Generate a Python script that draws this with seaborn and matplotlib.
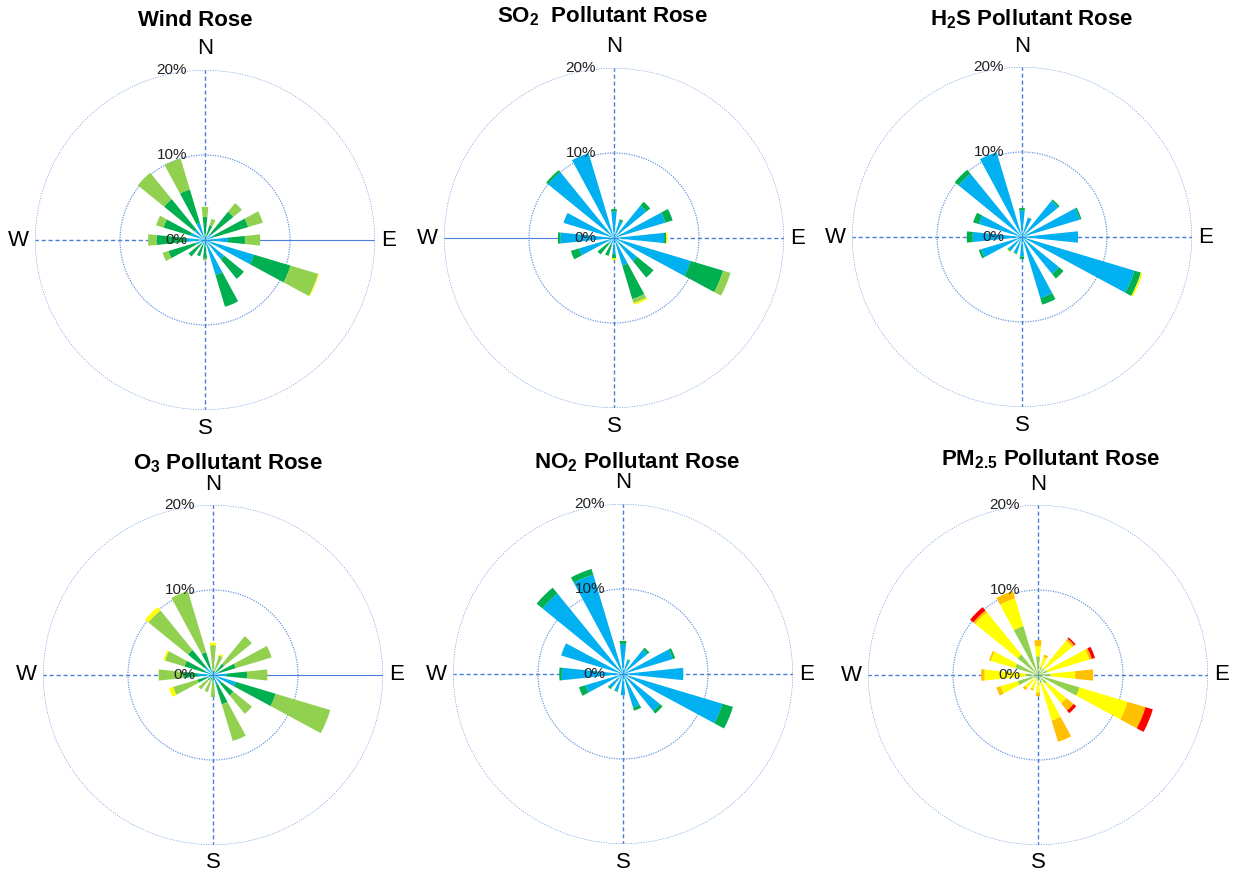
import numpy as np
import pandas as pd
import seaborn as sns
import matplotlib.pyplot as plt
from matplotlib.transforms import ScaledTranslation

# 16 compass directions, clockwise from N
directions = ['N', 'NNE', 'NE', 'ENE', 'E', 'ESE', 'SE', 'SSE',
              'S', 'SSW', 'SW', 'WSW', 'W', 'WNW', 'NW', 'NNW']

# --- Wind Rose (percent of time per class, stacked from the centre) ---
wind_c1 = [0.4, 0.5, 1.0, 1.2, 2.7, 6.0, 2.9, 4.3, 0.6, 0.5, 0.6, 1.2, 2.2, 1.8, 1.6, 2.1]
wind_c2 = [2.3, 1.3, 3.3, 4.1, 2.0, 4.5, 3.0, 3.9, 1.6, 1.5, 1.9, 3.3, 3.5, 3.3, 4.6, 4.1]
wind_c3 = [1.2, 0.8, 1.3, 1.8, 1.8, 3.4, 0.0, 0.0, 0.2, 0.0, 0.0, 0.7, 1.0, 0.9, 4.0, 3.8]
wind_c4 = [0.0, 0.0, 0.0, 0.0, 0.0, 0.1, 0.0, 0.0, 0.0, 0.0, 0.0, 0.0, 0.0, 0.0, 0.0, 0.0]

# --- SO2 ---
so2_c1 = [3.1, 2.1, 4.9, 6.3, 5.9, 9.4, 3.5, 3.4, 1.9, 0.8, 0.9, 4.3, 6.3, 6.2, 10.0, 10.4]
so2_c2 = [0.3, 0.2, 0.6, 0.9, 0.25, 4.0, 2.5, 4.1, 0.5, 1.4, 1.6, 1.0, 0.3, 0.0, 0.3, 0.0]
so2_c3 = [0.0, 0.0, 0.0, 0.0, 0.0, 0.9, 0.0, 0.5, 0.0, 0.0, 0.0, 0.0, 0.0, 0.0, 0.0, 0.0]
so2_c4 = [0.0, 0.0, 0.0, 0.0, 0.15, 0.0, 0.0, 0.2, 0.2, 0.0, 0.0, 0.0, 0.0, 0.0, 0.0, 0.0]

# --- H2S ---
h2s_c1 = [3.1, 2.3, 5.5, 7.1, 6.6, 13.8, 5.6, 7.5, 2.3, 2.0, 2.1, 5.0, 5.8, 5.3, 9.6, 10.4]
h2s_c2 = [0.3, 0.1, 0.2, 0.2, 0.0, 0.8, 0.7, 0.8, 0.3, 0.1, 0.1, 0.3, 0.7, 0.7, 0.6, 0.0]
h2s_c3 = [0.0] * 16
h2s_c4 = [0.0, 0.0, 0.0, 0.0, 0.0, 0.2, 0.0, 0.0, 0.0, 0.0, 0.1, 0.0, 0.0, 0.0, 0.0, 0.0]

# --- O3 ---
o3_c1 = [0.3, 0.2, 0.5, 0.8, 1.6, 2.8, 1.3, 1.2, 0.3, 0.3, 0.3, 0.8, 1.8, 1.0, 1.2, 0.8]
o3_c2 = [0.3, 0.3, 1.2, 2.0, 2.4, 4.9, 1.8, 2.4, 0.5, 0.4, 0.5, 1.1, 1.7, 2.5, 2.6, 2.0]
o3_c3 = [2.9, 1.9, 4.2, 4.4, 2.4, 6.7, 2.8, 4.5, 1.8, 1.4, 1.4, 3.0, 2.9, 2.4, 6.0, 7.5]
o3_c4 = [0.3, 0.2, 0.0, 0.0, 0.0, 0.0, 0.0, 0.0, 0.0, 0.0, 0.0, 0.5, 0.0, 0.2, 0.5, 0.0]

# --- NO2 ---
no2_c1 = [3.5, 1.7, 3.7, 6.1, 7.1, 12.2, 5.6, 4.1, 2.5, 2.1, 2.1, 4.6, 7.2, 7.6, 12.2, 12.2]
no2_c2 = [0.4, 0.1, 0.3, 0.3, 0.0, 1.3, 0.4, 0.4, 0.0, 0.1, 0.2, 0.8, 0.3, 0.0, 0.9, 0.7]
no2_c3 = [0.0] * 16
no2_c4 = [0.0] * 16

# --- PM2.5 ---
pm_c1 = [2.2, 1.0, 1.0, 1.2, 1.5, 5.1, 1.3, 1.0, 0.7, 0.5, 0.5, 2.5, 1.5, 2.8, 3.1, 6.0]
pm_c2 = [1.2, 1.2, 4.2, 5.1, 2.9, 5.9, 3.0, 4.6, 1.4, 1.2, 1.5, 2.1, 4.8, 3.0, 6.4, 3.4]
pm_c3 = [0.7, 0.3, 0.3, 0.3, 2.1, 2.2, 1.1, 2.6, 0.4, 0.2, 0.3, 0.5, 0.4, 0.2, 0.3, 0.9]
pm_c4 = [0.0, 0.0, 0.2, 0.4, 0.0, 0.9, 0.4, 0.0, 0.0, 0.0, 0.0, 0.0, 0.0, 0.0, 0.5, 0.0]

met_colors = ['#00B0F0', '#00B050', '#92D050', '#FFFF00']
pm_colors = ['#92D050', '#FFFF00', '#FFC000', '#FF0000']

panels = [
    ('Wind Rose', [wind_c1, wind_c2, wind_c3, wind_c4], met_colors),
    ('SO$_{\\mathbf{2}}$  Pollutant Rose', [so2_c1, so2_c2, so2_c3, so2_c4], met_colors),
    ('H$_{\\mathbf{2}}$S Pollutant Rose', [h2s_c1, h2s_c2, h2s_c3, h2s_c4], met_colors),
    ('O$_{\\mathbf{3}}$ Pollutant Rose', [o3_c1, o3_c2, o3_c3, o3_c4], met_colors),
    ('NO$_{\\mathbf{2}}$ Pollutant Rose', [no2_c1, no2_c2, no2_c3, no2_c4], met_colors),
    ('PM$_{\\mathbf{2.5}}$ Pollutant Rose', [pm_c1, pm_c2, pm_c3, pm_c4], pm_colors),
]

compass = ['N', 'E', 'S', 'W']
compass_deg = [0, 90, 180, 270]
# pixel offset of each compass letter from the 20% ring
compass_off = [(0, 21), (14, 0), (0, -18), (-17, 0)]

# layout (pixels): centre of each rose, radius of the 20% ring
centers = [(205, 240), (614, 238), (1022, 237), (213, 675), (623, 674), (1038, 675)]
title_xy = [(195, 20), (602, 16), (1032, 19), (228, 463), (637, 462), (1051, 459)]
solid_spokes = [[90], [270], [], [90], [], []]
R = 170
W, H = 1235, 876

sns.set_theme(style='white')
plt.rcParams['font.family'] = ['Liberation Sans', 'DejaVu Sans']
plt.rcParams['mathtext.fontset'] = 'custom'
plt.rcParams['mathtext.rm'] = 'Liberation Sans'
plt.rcParams['mathtext.bf'] = 'Liberation Sans:bold'

grid_col = '#4a7fd6'
ring_col = '#6a98e0'
fig = plt.figure(figsize=(W / 100, H / 100), dpi=100)

theta = np.deg2rad(np.arange(16) * 22.5)
width = np.deg2rad(22.5) * 0.52

for i, (title, classes, cols) in enumerate(panels):
    cx, cy = centers[i]
    ax = fig.add_axes([(cx - R) / W, 1 - (cy + R) / H, 2 * R / W, 2 * R / H], projection='polar')
    ax.set_theta_zero_location('N')
    ax.set_theta_direction(-1)

    df = pd.DataFrame(np.array(classes).T, index=directions)
    bottom = np.zeros(16)
    for k, col in enumerate(df.columns):
        ax.bar(theta, df[col].values, width=width, bottom=bottom,
               color=cols[k], linewidth=0, zorder=3)
        bottom += df[col].values

    ax.set_ylim(0, 20)
    ax.set_rgrids([10, 20], labels=['', ''])
    ax.set_thetagrids(compass_deg, ['', '', '', ''])
    ax.yaxis.grid(True, color=ring_col, linestyle=(0, (1, 1)), linewidth=0.9)
    ax.xaxis.grid(True, color=grid_col, linestyle=(0, (3, 2)), linewidth=1.0)
    for ang, gl in zip(compass_deg, ax.xaxis.get_gridlines()):
        if ang in solid_spokes[i]:
            gl.set_linestyle('-')
            gl.set_linewidth(0.8)
    ax.spines['polar'].set_visible(False)
    ax.set_facecolor('white')

    # compass letters just outside the 20% ring
    for lab, ang, (dx, dy) in zip(compass, compass_deg, compass_off):
        tr = ax.transData + ScaledTranslation(dx / 100, dy / 100, fig.dpi_scale_trans)
        ax.text(np.deg2rad(ang), 20, lab, transform=tr, ha='center', va='center',
                fontsize=16, color='black', clip_on=False)

    # radial labels, right-aligned left of the N spoke
    off = ax.transData + ScaledTranslation(-18 / 100, 0, fig.dpi_scale_trans)
    for r in [0, 10, 20]:
        ax.text(0, r, f'{r}%', transform=off, ha='right', va='center',
                fontsize=11, color='#222222', zorder=5)

    tx, ty = title_xy[i]
    fig.text(tx / W, 1 - ty / H, title, ha='center', va='center',
             fontsize=16, fontweight='bold', color='black')

fig.savefig('out.png', dpi=100, facecolor='white')
